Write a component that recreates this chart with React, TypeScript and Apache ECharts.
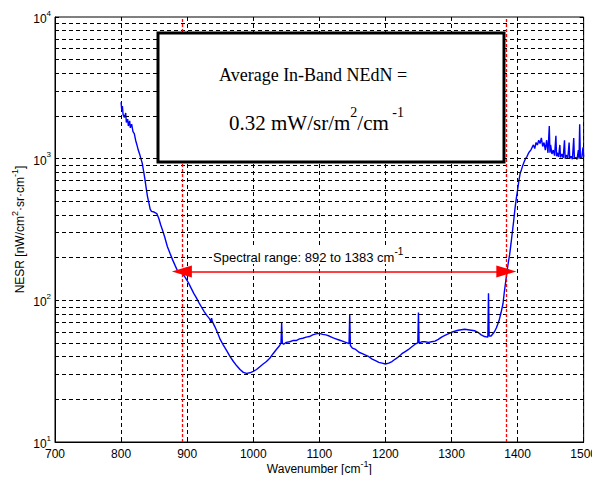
import React, { useEffect, useRef } from 'react';
import * as echarts from 'echarts';

// Measured spectrum: wavenumber [cm-1] and NESR [nW/(cm2 sr cm-1)]
const wavenumber = [
  800, 801, 802, 803, 805, 807, 808, 810, 811, 813, 814, 816, 818, 820, 822, 824, 826, 828, 830, 832,
  834, 836, 838, 840, 842, 844, 846, 850, 854, 857, 860, 863, 866, 870, 874, 878, 882, 885, 888, 892,
  895, 897, 900, 903, 906, 910, 914, 918, 922, 926, 930, 934, 936, 937, 938, 942, 946, 950, 955, 960,
  965, 970, 975, 980, 985, 990, 995, 1000, 1005, 1010, 1015, 1020, 1025, 1030, 1035, 1040, 1042, 1043, 1044, 1046,
  1050, 1055, 1060, 1065, 1070, 1075, 1080, 1085, 1090, 1095, 1100, 1105, 1110, 1115, 1120, 1125, 1130, 1135, 1140, 1145,
  1146, 1147, 1150, 1155, 1160, 1165, 1170, 1175, 1180, 1185, 1190, 1195, 1200, 1205, 1210, 1215, 1220, 1225, 1230, 1235,
  1240, 1245, 1249, 1250, 1251, 1255, 1260, 1265, 1270, 1275, 1280, 1285, 1290, 1295, 1300, 1305, 1310, 1315, 1320, 1325,
  1330, 1335, 1340, 1345, 1350, 1355, 1356, 1357, 1360, 1365, 1368, 1372, 1375, 1378, 1380, 1382, 1384, 1386, 1388, 1390,
  1392, 1394, 1396, 1398, 1400, 1402, 1404, 1406, 1408, 1410, 1412, 1414, 1416, 1418, 1420, 1422, 1424, 1426, 1428, 1430,
  1432, 1434, 1436, 1438, 1440, 1442, 1444, 1446, 1448, 1449, 1450, 1452, 1454, 1456, 1458, 1459, 1460, 1462, 1464, 1465,
  1467, 1469, 1471, 1472, 1474, 1476, 1478, 1479, 1481, 1483, 1485, 1486, 1488, 1490, 1492, 1493, 1494, 1495, 1497, 1499,
  1500,
];
const nesr = [
  2500, 2200, 2350, 2050, 1950, 2100, 1800, 1900, 1700, 1850, 1650, 1750, 1550, 1500, 1350, 1250, 1150, 1080, 1000, 930,
  820, 720, 620, 540, 490, 440, 425, 420, 410, 380, 340, 310, 280, 240, 215, 193, 175, 163, 158, 155,
  150, 145, 138, 130, 122, 112, 104, 96, 89, 83, 78, 74, 70, 75, 71, 65, 59, 53, 48, 44,
  40, 37, 34.5, 32.5, 31, 30.5, 30.8, 31.5, 32.5, 34, 35.5, 37, 39, 42, 45, 48, 50, 70, 50, 49,
  50.5, 51, 52, 52, 53.5, 54, 55, 55.5, 57, 58, 58.5, 57.5, 57, 56, 54.5, 53.5, 52.5, 51.5, 50.5, 49.5,
  80, 48, 46, 45, 43, 42, 41, 40, 38.5, 37.5, 36.5, 36, 35.5, 36, 37, 38.5, 40, 42, 43.5, 45,
  47, 49, 50, 82, 50, 51, 51, 50.5, 51, 51.5, 53, 55, 56.5, 58, 59.5, 60.5, 61.5, 62, 62.5, 62,
  61.5, 61, 59.5, 57, 55.5, 55, 112, 56, 56, 60, 64, 72, 82, 95, 115, 135, 160, 185, 210, 250,
  300, 360, 440, 520, 600, 700, 790, 840, 900, 950, 1000, 1030, 1080, 1120, 1150, 1200, 1250, 1180, 1300, 1250,
  1350, 1280, 1400, 1220, 1300, 1150, 1350, 1100, 1700, 1100, 1250, 1080, 1150, 1050, 1450, 1040, 1100, 1030, 1250, 1020,
  1080, 1010, 1350, 1000, 1060, 1000, 1300, 1000, 1040, 990, 1400, 1000, 1020, 990, 1150, 1000, 1750, 1020, 1010, 1200,
  1030,
];

// Log grid lines (every 1..9 x decade)
const logGridValues = [
  20, 30, 40, 50, 60, 70, 80, 90, 100,
  200, 300, 400, 500, 600, 700, 800, 900, 1000,
  2000, 3000, 4000, 5000, 6000, 7000, 8000, 9000,
];

const spectralRange = [892, 1383];
const arrowLevel = 160;

const xMin = 700;
const xMax = 1500;
const xStep = 100;
const yMin = 10;
const yMax = 10000;

const sans = '"Liberation Sans", Arial, sans-serif';
const serif = '"Liberation Serif", "Times New Roman", serif';

const supRich = (family: string, size: number, supSize: number, color = '#000') => ({
  t: { fontFamily: family, fontSize: size, color, fill: color, lineHeight: Math.round(size * 1.35), verticalAlign: 'bottom' },
  s: { fontFamily: family, fontSize: supSize, color, fill: color, lineHeight: Math.round(supSize * 0.7), verticalAlign: 'top' },
});

export default function App() {
  const ref = useRef<HTMLDivElement>(null);

  useEffect(() => {
    if (!ref.current) return;
    const chart = echarts.init(ref.current, null, { renderer: 'svg' });

    const curve = wavenumber.map((w, i) => [w, nesr[i]]);
    const dashed = { color: '#000', width: 1, type: [4, 3] as any };

    const option: any = {
      animation: false,
      backgroundColor: '#fff',
      grid: {
        left: 55,
        right: 13,
        top: 17,
        bottom: 41,
        show: true,
        borderColor: '#000',
        borderWidth: 1,
        backgroundColor: 'transparent',
      },
      xAxis: [
        {
          type: 'value',
          min: xMin,
          max: xMax,
          interval: xStep,
          position: 'bottom',
          name: '{t|Wavenumber [cm}{s|-1}{t|]}',
          nameLocation: 'middle',
          nameGap: 17,
          nameMoveOverlap: false,
          nameTextStyle: { rich: supRich(sans, 12, 9) },
          axisLine: { show: true, lineStyle: { color: '#000', width: 1 } },
          axisTick: { show: true, inside: true, length: 4, lineStyle: { color: '#000' } },
          axisLabel: {
            color: '#000',
            fontFamily: sans,
            fontSize: 12,
            margin: 6,
            formatter: (v: number) => String(v),
          },
          splitLine: { show: true, lineStyle: dashed },
        },
        {
          type: 'value',
          min: xMin,
          max: xMax,
          interval: xStep,
          position: 'top',
          axisLine: { show: false },
          axisTick: { show: true, inside: true, length: 4, lineStyle: { color: '#000' } },
          axisLabel: { show: false },
          splitLine: { show: false },
        },
      ],
      yAxis: [
        {
          type: 'log',
          logBase: 10,
          min: yMin,
          max: yMax,
          position: 'left',
          name: '{t|NESR [nW/cm}{s|2}{t|·sr·cm}{s|-1}{t|]}',
          nameLocation: 'middle',
          nameGap: 29,
          nameMoveOverlap: false,
          nameTextStyle: { rich: supRich(sans, 12, 9) },
          axisLine: { show: true, lineStyle: { color: '#000', width: 1 } },
          axisTick: { show: true, inside: true, length: 4, lineStyle: { color: '#000' } },
          axisLabel: {
            margin: 4,
            formatter: (v: number) => `{t|10}{s|${Math.round(Math.log10(v))}}`,
            rich: supRich(sans, 12, 8),
          },
          splitLine: { show: false },
        },
        {
          type: 'log',
          logBase: 10,
          min: yMin,
          max: yMax,
          position: 'right',
          axisLine: { show: false },
          axisTick: { show: true, inside: true, length: 4, lineStyle: { color: '#000' } },
          axisLabel: { show: false },
          splitLine: { show: false },
        },
      ],
      series: [
        {
          type: 'line',
          name: 'grid',
          data: [],
          silent: true,
          z: 1,
          markLine: {
            silent: true,
            symbol: ['none', 'none'],
            label: { show: false },
            lineStyle: dashed,
            data: logGridValues.map((v) => ({ yAxis: v })),
          },
        },
        {
          type: 'line',
          name: 'range',
          data: [],
          z: 2,
          markLine: {
            silent: true,
            symbol: ['none', 'none'],
            label: { show: false },
            lineStyle: { color: '#ff0000', width: 1.3, type: [3, 2] },
            data: spectralRange.map((w) => ({ xAxis: w, lineStyle: { color: '#ff0000', width: 1.3, type: [3, 2] } })),
          },
        },
        {
          type: 'line',
          name: 'NESR',
          data: curve,
          showSymbol: false,
          symbol: 'none',
          z: 3,
          lineStyle: { color: '#0000ff', width: 1.4 },
        },
        {
          type: 'line',
          name: 'arrow',
          data: [],
          z: 5,
          markLine: {
            silent: true,
            symbol: ['triangle', 'triangle'],
            symbolSize: [12, 20],
            label: { show: false },
            lineStyle: { color: '#ff0000', width: 1.5, type: 'solid' },
            itemStyle: { color: '#ff0000' },
            data: [
              [
                { coord: [spectralRange[0], arrowLevel] },
                { coord: [spectralRange[1], arrowLevel] },
              ],
            ],
          },
        },
      ],
      graphic: [
        {
          type: 'rect',
          z: 100,
          shape: { x: 158, y: 33, width: 346, height: 129 },
          style: { fill: '#fff', stroke: '#000', lineWidth: 3 },
        },
        {
          type: 'text',
          z: 101,
          x: 219,
          y: 75,
          style: {
            text: 'Average In-Band NEdN =',
            fontFamily: serif,
            fontSize: 18,
            fill: '#000',
            verticalAlign: 'middle',
          },
        },
        {
          type: 'text',
          z: 101,
          x: 229,
          y: 119,
          style: {
            text: '{t|0.32 mW/sr/m}{s|2}{t|/cm}{s| -1}',
            fill: '#000',
            verticalAlign: 'middle',
            rich: supRich(serif, 21, 14),
          },
        },
        {
          type: 'text',
          z: 101,
          x: 212,
          y: 255,
          style: {
            text: '{t|Spectral range: 892 to 1383 cm}{s|-1}',
            fill: '#000',
            verticalAlign: 'middle',
            backgroundColor: '#fff',
            padding: [0, 1, 0, 1],
            rich: supRich(sans, 13, 10),
          },
        },
      ],
    };

    chart.setOption(option);
    return () => chart.dispose();
  }, []);

  return <div ref={ref} style={{ width: 600, height: 483, margin: -8 }} />;
}
